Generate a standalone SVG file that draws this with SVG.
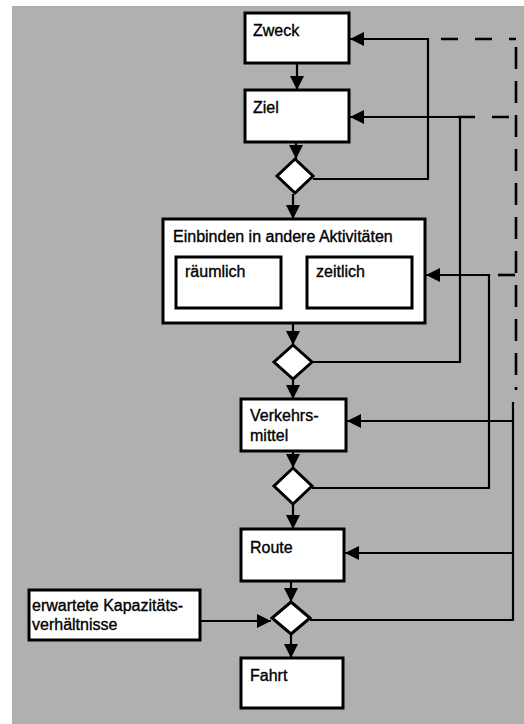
<svg xmlns="http://www.w3.org/2000/svg" width="524" height="724" viewBox="0 0 524 724">
<defs>
<style>
.box{fill:#fff;stroke:#000;stroke-width:3}
.dia{fill:#fff;stroke:#000;stroke-width:3;stroke-linejoin:miter}
.ln{fill:none;stroke:#000;stroke-width:2.2}
.arr{fill:none;stroke:#000;stroke-width:2.2;marker-end:url(#ah)}
.dash{fill:none;stroke:#000;stroke-width:2.6;stroke-dasharray:17 17}
text{font-family:"Liberation Sans",Arial,sans-serif;font-size:16px;fill:#000;stroke:#000;stroke-width:0.35}
</style>
<marker id="ah" markerUnits="userSpaceOnUse" markerWidth="15" markerHeight="15" refX="14" refY="7" orient="auto">
<path d="M0,0 L14,7 L0,14 z" fill="#000"/>
</marker>
</defs>
<rect x="0" y="0" width="524" height="724" fill="#fff"/>
<rect x="12" y="6" width="512" height="718" fill="#b0b0b0"/>

<g id="connectors">
<line class="arr" x1="297" y1="63" x2="297" y2="90"/>
<line class="arr" x1="296" y1="142" x2="296" y2="159"/>
<line class="arr" x1="293" y1="194" x2="293" y2="219"/>
<line class="arr" x1="293" y1="323" x2="293" y2="345"/>
<line class="arr" x1="293" y1="379" x2="293" y2="399"/>
<line class="arr" x1="293" y1="451" x2="293" y2="468"/>
<line class="arr" x1="293" y1="504" x2="293" y2="529"/>
<line class="arr" x1="291" y1="581" x2="291" y2="602"/>
<line class="arr" x1="291" y1="634" x2="291" y2="658"/>
<line class="arr" x1="200" y1="621" x2="271" y2="621"/>
<polyline class="arr" points="313,179 428,179 428,39 350,39"/>
<polyline class="arr" points="312,362 460,362 460,117 350,117"/>
<polyline class="arr" points="312,488 489,488 489,275 426,275"/>
<polyline class="ln" points="310,620 513,620 513,402"/>
<line class="arr" x1="513" y1="553" x2="345" y2="553"/>
<line class="arr" x1="513" y1="421" x2="347" y2="421"/>
<line class="dash" x1="441" y1="39" x2="516" y2="39"/>
<line class="dash" x1="458" y1="117" x2="516" y2="117"/>
<line class="dash" x1="498" y1="275" x2="516" y2="275"/>
<line class="dash" x1="516" y1="47" x2="516" y2="390" style="stroke-dasharray:22 12"/>
</g>

<g id="zweck"><rect class="box" x="245" y="13" width="104" height="50"/><text x="253" y="36">Zweck</text></g>
<g id="ziel"><rect class="box" x="245" y="90" width="104" height="52"/><text x="253" y="113">Ziel</text></g>
<g id="d1"><polygon class="dia" points="295,159 313,176 295,193 277,176"/></g>
<g id="einbinden"><rect class="box" x="163" y="219" width="262" height="104"/><text x="173" y="242">Einbinden in andere Aktivitäten</text></g>
<g id="raeumlich"><rect class="box" x="176" y="257" width="105" height="51"/><text x="185" y="277">räumlich</text></g>
<g id="zeitlich"><rect class="box" x="307" y="257" width="105" height="51"/><text x="316" y="277">zeitlich</text></g>
<g id="d2"><polygon class="dia" points="293,345 312,362 293,379 274,362"/></g>
<g id="verkehrsmittel"><rect class="box" x="241" y="399" width="105" height="52"/><text x="250" y="421">Verkehrs-</text><text x="250" y="441">mittel</text></g>
<g id="d3"><polygon class="dia" points="293,468 312,486 293,504 274,486"/></g>
<g id="route"><rect class="box" x="241" y="529" width="103" height="52"/><text x="250" y="553">Route</text></g>
<g id="d4"><polygon class="dia" points="291,602 310,618 291,634 272,618"/></g>
<g id="kapazitaet"><rect class="box" x="29" y="590" width="171" height="50"/><text x="32" y="611">erwartete Kapazitäts-</text><text x="32" y="630">verhältnisse</text></g>
<g id="fahrt"><rect class="box" x="241" y="658" width="102" height="50"/><text x="250" y="681">Fahrt</text></g>
</svg>
